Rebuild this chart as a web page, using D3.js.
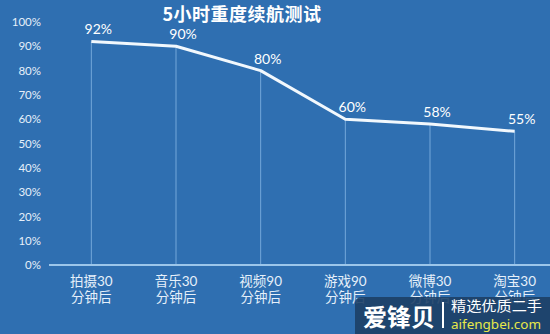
<!DOCTYPE html>
<html><head><meta charset="utf-8">
<script src="https://cdn.jsdelivr.net/npm/d3@7"></script>
<style>
html,body{margin:0;padding:0;background:#2f6fb1;}
svg{display:block;}
text{font-family:Lato,"Noto Sans CJK SC",sans-serif;}
</style></head>
<body>
<svg id="c" width="550" height="334"></svg>
<script>
const title = "5小时重度续航测试";
const categoriesLine1 = ["拍摄30","音乐30","视频90","游戏90","微博30","淘宝30"];
const categoriesLine2 = ["分钟后","分钟后","分钟后","分钟后","分钟后","分钟后"];
const values = [92, 90, 80, 60, 58, 55];
const yTicks = [0,10,20,30,40,50,60,70,80,90,100];

const svg = d3.select("#c");
svg.append("rect").attr("width",550).attr("height",334).attr("fill","#2f6fb1");

const x = d3.scaleBand().domain(categoriesLine1).range([49, 557]).padding(0);
const cx = d => x(d) + x.bandwidth()/2;
const y = d3.scaleLinear().domain([0,100]).range([265, 22]);

// y tick labels
const yAxis = d3.axisLeft(y).tickValues(yTicks).tickFormat(d => d + "%").tickSize(0).tickPadding(0);
const ya = svg.append("g").attr("transform","translate(41,0)").call(yAxis);
ya.select(".domain").remove();
ya.selectAll("text").attr("fill","#e6f0fa").style("font-size","11.5px").style("font-family","Lato,sans-serif");

// drop lines
svg.selectAll(".drop").data(values).enter().append("line")
  .attr("x1",(d,i)=>cx(categoriesLine1[i])).attr("x2",(d,i)=>cx(categoriesLine1[i]))
  .attr("y1",d=>y(d)).attr("y2",y(0))
  .attr("stroke","#74a8da").attr("stroke-width",1);

// x axis line
svg.append("line").attr("x1",49).attr("x2",550).attr("y1",y(0)).attr("y2",y(0))
  .attr("stroke","#9cc6ea").attr("stroke-width",2);

// main line
const line = d3.line().x((d,i)=>cx(categoriesLine1[i])).y(d=>y(d));
svg.append("path").datum(values).attr("d",line).attr("fill","none")
  .attr("stroke","#f2f8fd").attr("stroke-width",3).attr("stroke-linejoin","round");

// value labels
svg.selectAll(".vl").data(values).enter().append("text")
  .attr("x",(d,i)=>cx(categoriesLine1[i])+7).attr("y",d=>y(d)-7)
  .attr("text-anchor","middle").attr("fill","#ffffff")
  .style("font-size","14px").text(d=>d+"%");

// x labels
const xl = svg.selectAll(".xl").data(categoriesLine1).enter().append("text")
  .attr("text-anchor","middle").attr("fill","#e6f0fa").style("font-size","13.5px");
xl.append("tspan").attr("x",d=>cx(d)).attr("y",286).text(d=>d);
xl.append("tspan").attr("x",d=>cx(d)).attr("y",302).text((d,i)=>categoriesLine2[i]);

// title
svg.append("text").attr("x",242).attr("y",21).attr("text-anchor","middle")
  .attr("fill","#ffffff").style("font-size","18px").style("font-weight","bold")
  .style("letter-spacing","0.5px").style("font-family","'Noto Sans CJK SC',sans-serif").text(title);

// watermark
const wm = svg.append("g");
wm.append("rect").attr("x",355).attr("y",297).attr("width",200).attr("height",45).attr("rx",6)
  .attr("fill","#1d3f66").attr("opacity",0.9);
wm.append("text").attr("x",363).attr("y",326).attr("fill","#ffffff")
  .style("font-size","24px").style("font-weight","bold")
  .style("font-family","'Noto Sans CJK SC',sans-serif").text("爱锋贝");
wm.append("line").attr("x1",443).attr("x2",443).attr("y1",302).attr("y2",328)
  .attr("stroke","#ffffff").attr("stroke-width",2);
wm.append("text").attr("x",451).attr("y",311).attr("fill","#ffffff")
  .attr("textLength",91).attr("lengthAdjust","spacingAndGlyphs")
  .style("font-size","14px").style("font-family","'Noto Sans CJK SC',sans-serif").text("精选优质二手");
wm.append("text").attr("x",451).attr("y",329).attr("fill","#e6e84a")
  .attr("textLength",90).attr("lengthAdjust","spacingAndGlyphs")
  .style("font-size","13px").style("font-family","'Noto Sans',sans-serif").text("aifengbei.com");
</script>
</body></html>
